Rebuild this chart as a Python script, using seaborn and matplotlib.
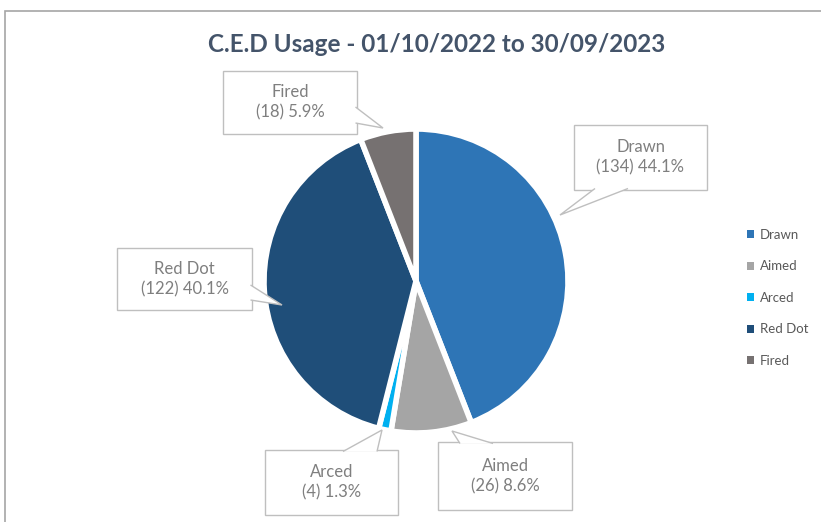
import numpy as np
import matplotlib.pyplot as plt
import seaborn as sns
from matplotlib.patches import Rectangle, Polygon, Patch

# Data
categories = ["Drawn", "Aimed", "Arced", "Red Dot", "Fired"]
counts = [134, 26, 4, 122, 18]
colours = ["#2E75B6", "#A5A5A5", "#00B0F0", "#1F4E79", "#767171"]

# Callout layout in pixels (from top-left): box (x0, y0, x1, y1),
# pointer base points on the box edge and the pointer tip.
callouts = {
    "Drawn": ((574, 125, 707, 190), [(595, 190), (628, 190)], (560, 215)),
    "Aimed": ((438, 442, 572, 510), [(460, 442), (493, 442)], (452, 431)),
    "Arced": ((265, 450, 398, 515), [(343, 450), (377, 450)], (382, 430)),
    "Red Dot": ((117, 248, 252, 310), [(252, 285), (252, 300)], (282, 305)),
    "Fired": ((223, 71, 357, 134), [(357, 107), (357, 123)], (383, 128)),
}

W, H = 821, 522
sns.set_theme(style="white")
plt.rcParams["font.family"] = ["Lato", "DejaVu Sans"]

fig = plt.figure(figsize=(W / 100, H / 100), dpi=100)
ax = fig.add_axes([0, 0, 1, 1])


def flip(p):
    return (p[0], H - p[1])


# chart frame
ax.add_patch(Rectangle((5, -5), W, H - 11 + 5, fill=False,
                       edgecolor="#a6a6a6", lw=1.2))

cx, cy, r = 416, H - 281, 152
wedges, _ = ax.pie(
    counts,
    colors=colours,
    startangle=90,
    counterclock=False,
    center=(cx, cy),
    radius=r,
    wedgeprops=dict(edgecolor="white", linewidth=4),
    frame=True,
)
ax.set_xlim(0, W)
ax.set_ylim(0, H)
ax.set_aspect("equal")
ax.axis("off")

total = sum(counts)
edge = "#bfbfbf"
for name, n in zip(categories, counts):
    (x0, y0, x1, y1), base, tip = callouts[name]
    ax.add_patch(Rectangle((x0, H - y1), x1 - x0, y1 - y0,
                           fc="white", ec=edge, lw=1, zorder=5))
    # nudge the base points into the box so the fill hides the box edge
    bx = [(b[0] + np.sign((x0 + x1) / 2 - b[0]) * 1.5 * (b[0] in (x0, x1)),
           b[1] + np.sign((y0 + y1) / 2 - b[1]) * 1.5 * (b[1] in (y0, y1)))
          for b in base]
    ax.add_patch(Polygon([flip(bx[0]), flip(tip), flip(bx[1])], closed=False,
                         fc="white", ec=edge, lw=1, zorder=6))
    ax.text((x0 + x1) / 2, H - (y0 + y1) / 2,
            f"{name}\n({n}) {n / total * 100:.1f}%",
            ha="center", va="center", fontsize=12, color="#7f7f7f",
            linespacing=1.35, zorder=7)

fig.text(437 / W, 1 - 44 / H, "C.E.D Usage - 01/10/2022 to 30/09/2023",
         ha="center", va="center", fontsize=17.5, fontweight="bold",
         color="#44546A")

handles = [Patch(facecolor=c, edgecolor="none") for c in colours]
leg = ax.legend(handles, categories, loc="upper left",
                bbox_to_anchor=(735 / W, 1 - 217 / H),
                frameon=False, fontsize=9.5, handlelength=0.55,
                handleheight=0.55, handletextpad=0.45, labelspacing=1.48)
for t in leg.get_texts():
    t.set_color("#595959")

fig.savefig("out.png", dpi=100)
